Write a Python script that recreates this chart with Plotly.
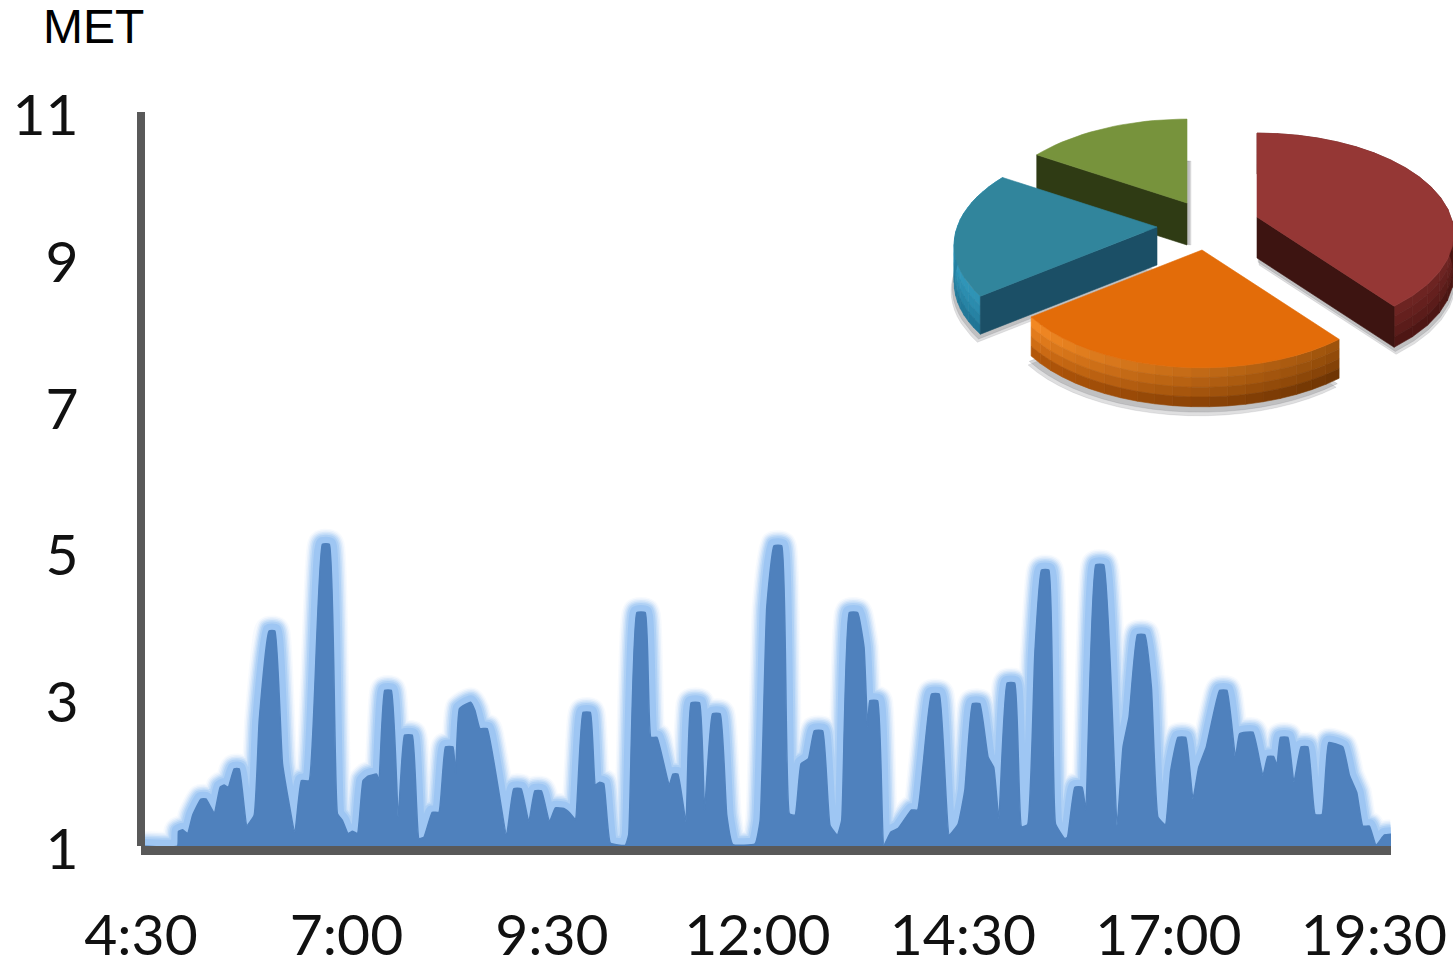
import math
import plotly.graph_objects as go

# ---------- data ----------
minutes = [270,296.7,297.4,300.4,304.0,307.7,313.7,317.4,323.5,327.8,330.7,333.7,338.0,341.7,347.3,352.6,356.3,363.5,367.7,373.3,
 382.3,387.1,392.7,402.4,407.5,413.4,417.0,421.1,424.3,428.0,432.1,435.7,442.0,443.7,447.9,452.7,457.8,462.4,468.0,472.9,
 476.5,482.6,487.5,492.3,497.7,499.6,502.5,510.6,513.7,517.4,522.7,536.8,542.1,547.5,553.1,557.5,562.3,568.2,572.5,578.6,
 583.5,587.1,592.7,598.0,601.7,604.8,607.8,612.6,623.5,626.0,632.0,638.1,642.2,646.6,655.6,658.3,661.9,667.8,671.6,677.7,
 681.4,687.2,692.8,697.6,702.0,718.3,722.0,726.8,732.1,737.7,743.3,747.5,751.8,757.2,761.5,767.6,773.0,778.3,781.5,787.1,
 793.1,797.8,800.4,802.1,807.7,812.3,817.4,822.8,832.5,836.9,841.0,847.1,852.7,860.0,866.5,871.4,877.0,882.3,888.4,892.5,
 896.2,902.3,907.8,912.8,917.2,922.5,927.4,932.7,937.6,944.4,946.3,951.7,957.0,959.7,967.0,972.8,982.5,986.9,991.3,997.4,
 1002.7,1007.6,1012.4,1017.8,1021.7,1027.0,1032.6,1037.9,1042.1,1047.7,1057.4,1062.7,1069.0,1072.0,1081.7,1089.0,1092.6,1096.7,1099.2,1101.8,
 1107.2,1111.6,1116.9,1121.8,1127.1,1132.2,1137.1,1147.3,1152.2,1157.5,1161.9,1166.7,1171.6,1177.7,1182.5]
met = [1.0,1.0,1.20,1.22,1.17,1.42,1.64,1.64,1.45,1.80,1.83,1.80,2.05,2.05,1.28,1.42,2.71,3.93,3.93,2.12,
 1.19,1.89,1.89,5.11,5.11,1.44,1.35,1.17,1.20,1.17,1.89,1.95,1.98,1.89,3.12,3.12,1.39,2.51,2.51,1.10,
 1.12,1.46,1.46,2.35,2.35,1.98,2.87,2.96,2.85,2.60,2.60,1.15,1.78,1.78,1.33,1.75,1.75,1.33,1.52,1.51,
 1.44,1.36,2.82,2.82,1.83,1.87,1.85,1.04,1.01,1.15,4.18,4.18,2.48,2.48,1.83,1.98,1.98,1.33,2.95,2.95,
 1.49,2.80,2.80,1.42,1.02,1.03,1.35,4.25,5.09,5.09,1.44,1.42,2.12,2.19,2.57,2.57,1.28,1.15,1.35,4.18,
 4.18,3.71,2.62,2.98,2.98,1.01,1.19,1.24,1.49,1.49,2.12,3.07,3.07,1.15,1.30,1.76,2.94,2.94,2.21,2.07,
 1.37,3.22,3.22,1.26,1.29,3.62,4.76,4.76,1.30,1.10,1.12,1.80,1.80,1.49,4.83,4.83,1.28,2.35,2.76,3.88,
 3.88,3.16,1.39,1.29,2.03,2.48,2.48,1.64,2.07,2.35,3.12,3.12,2.21,2.53,2.55,1.96,2.22,2.22,2.10,2.48,
 2.48,1.87,2.35,2.35,1.43,1.43,2.41,2.35,1.96,1.73,1.27,1.27,1.01,1.15,1.16]
x_tickvals = [270,420,570,720,870,1020,1170]
x_ticktext = ["4:30","7:00","9:30","12:00","14:30","17:00","19:30"]
y_tickvals = [1,3,5,7,9,11]
y_ticktext = ["1","3","5","7","9","11"]

pie_names = ["red","orange","teal","green"]
pie_shares = [39.5,25,19.5,16]

# ---------- pie styling / layout ----------
pie_start = -90
rx0, ry0, persp = 194, 98, 0.168
apex = {"red":(1257,217),"orange":(1202,250),"teal":(1157,227),"green":(1187,203)}
radius = {"red":1.0,"orange":1.0,"teal":1.03,"green":1.0}
depth = {"red":41,"orange":39,"teal":38,"green":42}
top_col = {"red":"#953735","orange":"#e36c09","teal":"#31859c","green":"#77933c"}
radial_col = {"red":"#3d1411","teal":"#1b4f66","green":"#2f3b14"}
radial_edge = {"red":"end","teal":"start","green":"start"}
# wall colours as (at arc start, at arc end) for bevel band and lower band
bevel_col = {"red":("#6a2422","#6e2422"),"orange":("#9c520c","#f58a24"),"teal":("#2f93b5","#35a5c9")}
wall_col = {"red":("#43140f","#4f1715"),"orange":("#6e3504","#b5580a"),"teal":("#1f7596","#2f8bab")}
shadow_shift = {"red":(2,7),"orange":(-3,9),"teal":(-3,8),"green":(4,0)}
draw_order = ["green","red","teal","orange"]

def pt(name, ang):
    a = math.radians(ang)
    u, v = radius[name]*math.cos(a), radius[name]*math.sin(a)
    w = 1 - persp*v
    return apex[name][0] + rx0*u/w, apex[name][1] + ry0*v/w

def hex2rgb(h):
    return [int(h[i:i+2],16) for i in (1,3,5)]

def lerp(c1, c2, t):
    a, b = hex2rgb(c1), hex2rgb(c2)
    return "#%02x%02x%02x" % tuple(int(a[i]+(b[i]-a[i])*t) for i in range(3))

spans = {}
ang = pie_start
for n, s in zip(pie_names, pie_shares):
    spans[n] = (ang, ang + 3.6*s)
    ang += 3.6*s

fig = go.Figure()

def poly(xs, ys, color):
    fig.add_trace(go.Scatter(x=list(xs)+[xs[0]], y=list(ys)+[ys[0]], mode="lines", fill="toself",
        fillcolor=color, line=dict(width=0.6, color=color),
        xaxis="x2", yaxis="y2", hoverinfo="skip", showlegend=False))

# ---------- area with glow ----------
for w, a in [(30,0.07),(27,0.12),(24,0.18),(21,0.26),(18,0.36),(14,0.50)]:
    fig.add_trace(go.Scatter(x=minutes, y=met, mode="lines",
        line=dict(width=w, color="rgba(140,188,242,%s)" % a, shape="spline", smoothing=0.35),
        hoverinfo="skip", showlegend=False))
fig.add_trace(go.Scatter(x=minutes, y=met, mode="lines", fill="tozeroy", fillcolor="#4f81bd",
    line=dict(width=1.5, color="#4f81bd", shape="spline", smoothing=0.35), hoverinfo="skip", showlegend=False))

# ---------- 3D pie ----------
for name in draw_order:
    a1, a2 = spans[name]
    n_seg = 20
    angs = [a1 + (a2-a1)*i/n_seg for i in range(n_seg+1)]
    top = [(apex[name][0], apex[name][1])] + [pt(name, a) for a in angs]
    d = depth[name]
    sx, sy = shadow_shift[name]
    for extra, op in [(1.0,0.22),(0.6,0.28)]:
        poly([p[0]+sx*extra for p in top], [p[1]+(d+sy*extra if name!="green" else d) for p in top],
             "rgba(110,110,115,%s)" % op)
    if name in wall_col:
        n_band = 4
        band_t = [0.0, 0.25, 0.55, 1.0]
        for b in range(n_band):
            y0, y1 = d*b/n_band, d*(b+1)/n_band
            for i in range(n_seg):
                t = (i+0.5)/n_seg
                p, q = pt(name, angs[i]), pt(name, angs[i+1])
                col = lerp(lerp(*bevel_col[name], t), lerp(*wall_col[name], t), band_t[b])
                poly([p[0],q[0],q[0],p[0]], [p[1]+y0,q[1]+y0,q[1]+y1,p[1]+y1], col)
    if name in radial_col:
        e = pt(name, a2 if radial_edge[name]=="end" else a1)
        ax, ay = apex[name]
        poly([ax,e[0],e[0],ax], [ay,e[1],e[1]+d,ay+d], radial_col[name])
    poly([p[0] for p in top], [p[1] for p in top], top_col[name])

# ---------- layout ----------
W, H = 1453, 960
fig.update_layout(
    width=W, height=H, margin=dict(l=0,r=0,t=0,b=0), paper_bgcolor="white", plot_bgcolor="rgba(0,0,0,0)",
    showlegend=False,
    font=dict(family="Lato, sans-serif", color="#111111"),
    xaxis=dict(domain=[141/W,1391/W], range=[270,1182.5], tickmode="array", tickvals=x_tickvals, ticktext=x_ticktext,
        showgrid=False, zeroline=False, showline=True, linecolor="#595959", linewidth=9, ticks="",
        ticklabelstandoff=32, tickfont=dict(size=57, family="Lato"), automargin=False),
    yaxis=dict(domain=[(H-846)/H,(H-112)/H], range=[1,11], tickmode="array", tickvals=y_tickvals, ticktext=y_ticktext,
        anchor="free", position=141/W,
        showgrid=False, zeroline=False, showline=True, linecolor="#595959", linewidth=8, ticks="",
        ticklabelstandoff=47, ticklabelshift=3, tickfont=dict(size=57, family="Lato"), automargin=False),
    xaxis2=dict(domain=[0,1], range=[0,W], visible=False, anchor="y2"),
    yaxis2=dict(domain=[0,1], range=[H,0], visible=False, anchor="x2"),
    annotations=[dict(text="MET", xref="paper", yref="paper", x=41/W, y=1-27/H, xanchor="left", yanchor="middle",
        showarrow=False, font=dict(family="Liberation Sans", size=48, color="#000000"))],
)
fig.write_html("out.html", config={"displayModeBar": False},
               post_script="document.body.style.margin='0';document.body.style.overflow='hidden';")
